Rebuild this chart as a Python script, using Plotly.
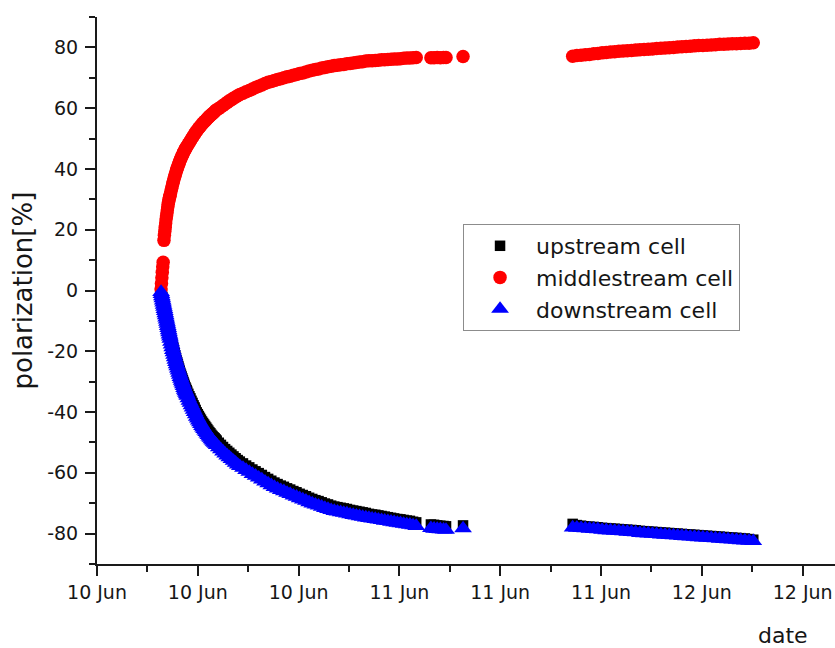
import pandas as pd
import plotly.graph_objects as go

# Measurement times in minutes after 10 Jun 00:00
minutes = (
    [305, 307, 309, 311, 313, 315, 317, 319, 321, 323, 325, 327, 329, 331, 333, 335,
     337, 339, 341, 343, 345, 347, 349]
    + [352, 355, 358, 361, 364, 367, 370, 373, 376, 379, 382, 385, 388, 391, 394, 397,
       400, 403, 406, 409, 412, 415, 418, 421, 424, 427, 430]
    + [435, 440, 445, 450, 455, 460, 465, 470, 475, 480, 485, 490, 495, 500, 505, 510,
       515, 520, 525, 530, 535, 540, 545, 550, 555, 560, 565, 570]
    + [580, 590, 600, 610, 620, 630, 640, 650, 660, 670, 680]
    + [695, 710, 725, 740, 755, 770, 785, 800, 815, 830, 845, 860, 875, 890, 905, 920,
       935, 950, 965, 980, 995, 1010, 1025, 1040, 1055, 1070, 1085, 1100, 1115, 1130,
       1145, 1160, 1175, 1190, 1205, 1220, 1235, 1250, 1265, 1280, 1295, 1310, 1325,
       1340, 1355, 1370, 1385, 1400, 1415, 1430, 1445, 1460, 1475, 1490, 1505, 1520]
    + [1590, 1605, 1620, 1635, 1650, 1662]
    + [1743]
    + [2265, 2285, 2305, 2325, 2345, 2365, 2385, 2405, 2425, 2445, 2465, 2485, 2505,
       2525, 2545, 2565, 2585, 2605, 2625, 2645, 2665, 2685, 2705, 2725, 2745, 2765,
       2785, 2805, 2825, 2845, 2865, 2885, 2905, 2925, 2945, 2965, 2985, 3005, 3025,
       3045, 3065, 3085, 3105, 3125]
)

# Polarization [%] of the three cells
upstream = (
    [0.0, -0.8, -1.5, -2.2, -2.9, -3.5, -4.2, -4.8, -5.5, -6.1, -6.8, -7.4, -8.1, -8.7,
     -9.4, -10.0, -10.7, -11.3, -12.0, -12.6, -13.3, -13.9, -14.6]
    + [-15.5, -16.4, -17.3, -18.2, -19.0, -19.8, -20.6, -21.4, -22.2, -22.9, -23.6, -24.3,
       -25.0, -25.7, -26.4, -27.1, -27.7, -28.3, -28.9, -29.5, -30.1, -30.7, -31.3, -31.8,
       -32.3, -32.8, -33.3]
    + [-34.0, -34.8, -35.5, -36.3, -37.0, -37.8, -38.5, -39.3, -40.1, -40.7, -41.3, -41.9,
       -42.5, -43.1, -43.6, -44.1, -44.6, -45.1, -45.6, -46.1, -46.6, -47.0, -47.5, -47.9,
       -48.3, -48.6, -49.0, -49.4]
    + [-50.1, -50.8, -51.5, -52.2, -52.8, -53.4, -54.0, -54.6, -55.2, -55.8, -56.3]
    + [-56.9, -57.6, -58.2, -58.9, -59.5, -60.1, -60.7, -61.4, -62.0, -62.6,
       -63.2, -63.7, -64.2, -64.6, -65.1, -65.5, -66.0, -66.4, -66.9, -67.3,
       -67.7, -68.2, -68.6, -69.0, -69.3, -69.7, -70.1, -70.4, -70.8, -71.1,
       -71.3, -71.5, -71.7, -71.9, -72.2, -72.4, -72.6, -72.8, -73.0, -73.2,
       -73.5, -73.7, -73.8, -74.0, -74.2, -74.4, -74.6, -74.8, -75.0, -75.2,
       -75.3, -75.5, -75.7, -75.8, -76.1, -76.3]
    + [-77.0, -77.1, -77.3, -77.4, -77.5, -77.6]
    + [-77.3]
    + [-76.8, -77.2, -77.4, -77.6, -77.7, -77.8, -77.9, -78.1, -78.2, -78.3, -78.4, -78.5, -78.6,
       -78.7, -78.8, -78.9, -79.1, -79.2, -79.3, -79.4, -79.5, -79.6, -79.7, -79.8, -79.9, -80.0,
       -80.1, -80.2, -80.3, -80.4, -80.5, -80.6, -80.7, -80.8, -80.9, -81.0, -81.1, -81.2, -81.3,
       -81.4, -81.5, -81.6, -81.8, -82.0]
)

middlestream = (
    [0.5, 2.3, 4.2, 6.0, 7.8, 9.3, None, 16.5, 18.2, 19.5, 20.8, 22.2, 23.5, 24.5, 25.5,
     26.5, 27.5, 28.4, 29.2, 29.9, 30.5, 31.0, 31.6]
    + [32.6, 33.5, 34.4, 35.2, 36.0, 36.8, 37.5, 38.2, 39.0, 39.6, 40.2, 40.8, 41.4, 41.9,
       42.5, 43.0, 43.5, 44.0, 44.5, 44.9, 45.4, 45.8, 46.2, 46.6, 47.0, 47.3, 47.6]
    + [48.2, 48.8, 49.3, 49.9, 50.4, 51.0, 51.5, 52.1, 52.6, 53.0, 53.5, 53.9, 54.3, 54.7,
       55.1, 55.5, 55.8, 56.2, 56.6, 56.9, 57.3, 57.6, 57.9, 58.2, 58.5, 58.8, 59.2, 59.5]
    + [59.9, 60.4, 60.9, 61.4, 61.9, 62.4, 62.8, 63.3, 63.7, 64.1, 64.5]
    + [64.9, 65.4, 65.8, 66.3, 66.8, 67.2, 67.6, 68.1, 68.5, 68.8,
       69.1, 69.4, 69.7, 70.0, 70.3, 70.5, 70.8, 71.1, 71.4, 71.6,
       71.9, 72.2, 72.5, 72.7, 72.9, 73.2, 73.4, 73.6, 73.8, 74.0,
       74.1, 74.3, 74.4, 74.6, 74.7, 74.9, 75.0, 75.2, 75.3, 75.5,
       75.6, 75.6, 75.7, 75.8, 75.9, 75.9, 76.0, 76.1, 76.2, 76.2,
       76.3, 76.4, 76.5, 76.5, 76.6, 76.7]
    + [76.6, 76.6, 76.7, 76.6, 76.7, 76.7]
    + [77.0]
    + [77.1, 77.3, 77.4, 77.6, 77.7, 77.9, 78.0, 78.2, 78.3, 78.5, 78.6, 78.7, 78.8,
       78.9, 79.0, 79.1, 79.2, 79.3, 79.4, 79.5, 79.6, 79.7, 79.8, 79.9, 80.0, 80.1,
       80.2, 80.3, 80.4, 80.5, 80.6, 80.6, 80.7, 80.8, 80.9, 81.0, 81.0, 81.1, 81.2,
       81.2, 81.3, 81.4, 81.4, 81.5]
)

downstream = (
    [-0.5, -1.2, -1.9, -2.6, -3.3, -4.0, -4.7, -5.4, -6.1, -6.8, -7.5, -8.2, -8.9, -9.6,
     -10.3, -11.0, -11.7, -12.4, -13.1, -13.8, -14.5, -15.2, -15.9]
    + [-16.9, -17.8, -18.7, -19.6, -20.4, -21.2, -22.0, -22.8, -23.6, -24.3, -25.0, -25.7,
       -26.4, -27.1, -27.8, -28.5, -29.1, -29.7, -30.3, -30.9, -31.5, -32.1, -32.7, -33.2,
       -33.7, -34.2, -34.7]
    + [-35.5, -36.3, -37.0, -37.8, -38.5, -39.3, -40.0, -40.8, -41.6, -42.2, -42.8, -43.4,
       -44.0, -44.6, -45.1, -45.6, -46.1, -46.6, -47.1, -47.6, -48.1, -48.5, -49.0, -49.4,
       -49.8, -50.1, -50.5, -50.9]
    + [-51.6, -52.3, -53.0, -53.7, -54.3, -54.9, -55.5, -56.1, -56.7, -57.3, -57.8]
    + [-58.4, -59.1, -59.7, -60.4, -61.0, -61.6, -62.2, -62.9, -63.5, -64.1,
       -64.7, -65.2, -65.7, -66.1, -66.6, -67.0, -67.5, -67.9, -68.4, -68.8,
       -69.2, -69.7, -70.1, -70.5, -70.8, -71.2, -71.6, -71.9, -72.3, -72.6,
       -72.8, -73.0, -73.2, -73.4, -73.7, -73.9, -74.1, -74.3, -74.5, -74.7,
       -74.9, -75.1, -75.2, -75.4, -75.6, -75.8, -75.9, -76.1, -76.3, -76.5,
       -76.6, -76.8, -77.0, -77.1, -77.3, -77.5]
    + [-78.2, -78.4, -78.5, -78.6, -78.7, -78.8]
    + [-78.3]
    + [-78.0, -78.1, -78.2, -78.3, -78.4, -78.5, -78.6, -78.8, -78.9, -79.0, -79.1, -79.2, -79.3,
       -79.4, -79.5, -79.6, -79.8, -79.9, -80.0, -80.1, -80.2, -80.3, -80.4, -80.5, -80.6, -80.7,
       -80.8, -80.9, -81.0, -81.1, -81.2, -81.3, -81.4, -81.5, -81.6, -81.7, -81.8, -81.9, -82.0,
       -82.1, -82.2, -82.3, -82.4, -82.5]
)

y_ticks = [-80, -60, -40, -20, 0, 20, 40, 60, 80]
y_tick_labels = ["-80", "-60", "-40", "-20", "0", "20", "40", "60", "80"]

start = pd.Timestamp("2011-06-10 00:00")
times = start + pd.to_timedelta(minutes, unit="min")

FONT = "DejaVu Sans, Verdana, sans-serif"
AXIS = "#1a1a1a"
TEXT = "#161616"

fig = go.Figure()
fig.add_trace(go.Scatter(x=times, y=upstream, mode="markers", name="upstream cell",
                         marker=dict(symbol="square", size=10.5, color="#000000", line_width=0)))
fig.add_trace(go.Scatter(x=times, y=middlestream, mode="markers", name="middlestream cell",
                         marker=dict(symbol="circle", size=13.5, color="#ff0000", line_width=0)))
fig.add_trace(go.Scatter(x=times, y=downstream, mode="markers", name="downstream cell",
                         marker=dict(symbol="triangle-up", size=15.5, color="#0000ff", line_width=0)))

x_end = start + pd.Timedelta(hours=58.57)

fig.update_xaxes(
    type="date", range=[start, x_end],
    tick0=start, dtick=8 * 3600 * 1000, tickformat="%d %b",
    showline=True, linewidth=2, linecolor=AXIS, mirror=False,
    ticks="outside", ticklen=10, tickwidth=2, tickcolor=AXIS,
    ticklabelstandoff=0,
    minor=dict(ticks="outside", dtick=4 * 3600 * 1000, ticklen=6, tickwidth=1.5,
               tickcolor=AXIS, showgrid=False),
    showgrid=False, zeroline=False,
    tickfont=dict(family=FONT, size=19, color=TEXT),
)
fig.update_yaxes(
    range=[-90, 90], tickmode="array", tickvals=y_ticks, ticktext=y_tick_labels,
    showline=True, linewidth=2, linecolor=AXIS, mirror=False,
    ticks="outside", ticklen=10, tickwidth=2, tickcolor=AXIS,
    ticklabelstandoff=3,
    minor=dict(ticks="outside", tick0=0, dtick=10, ticklen=6, tickwidth=1.5,
               tickcolor=AXIS, showgrid=False),
    showgrid=False, zeroline=False,
    tickfont=dict(family=FONT, size=19, color=TEXT),
)

fig.update_layout(
    width=835, height=648,
    margin=dict(l=97, r=0, t=17, b=84),
    paper_bgcolor="white", plot_bgcolor="white",
    showlegend=True,
    legend=dict(
        x=0.496, y=0.6216, xanchor="left", yanchor="top",
        bgcolor="white", bordercolor="#8c8c8c", borderwidth=1,
        itemwidth=62, tracegroupgap=0,
        font=dict(family=FONT, size=22, color=TEXT),
    ),
    annotations=[
        dict(text="polarization[%]", xref="paper", yref="paper", x=-0.1016, y=0.5,
             xanchor="center", yanchor="middle", textangle=-90, showarrow=False,
             font=dict(family=FONT, size=26, color=TEXT)),
        dict(text="date", xref="paper", yref="paper", x=0.9295, y=-0.1298,
             xanchor="center", yanchor="middle", showarrow=False,
             font=dict(family=FONT, size=22, color=TEXT)),
    ],
)

fig.write_html("out.html", config={"displayModeBar": False})
